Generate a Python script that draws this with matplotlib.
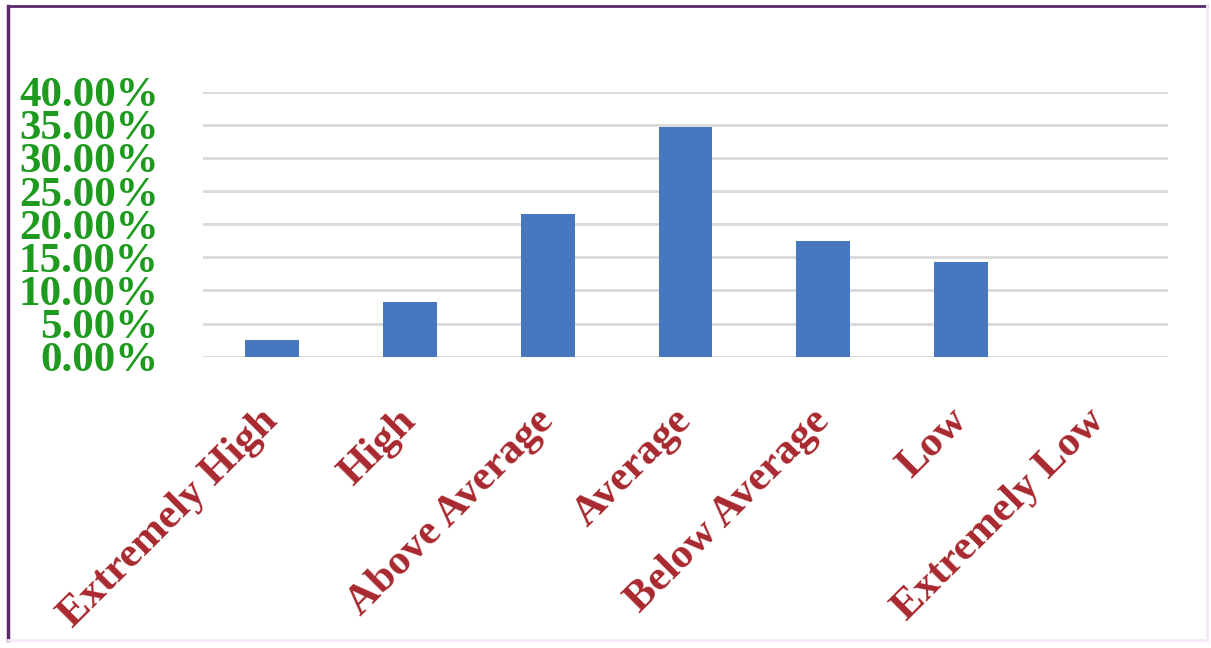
import matplotlib.pyplot as plt
from matplotlib.lines import Line2D
from matplotlib.ticker import FuncFormatter

categories = ['Extremely High', 'High', 'Above Average', 'Average',
              'Below Average', 'Low', 'Extremely Low']
shares = [0.025, 0.083, 0.216, 0.347, 0.175, 0.143, 0.0]
yticks = [0.0, 0.05, 0.10, 0.15, 0.20, 0.25, 0.30, 0.35, 0.40]

fig = plt.figure(figsize=(12.11, 6.48), dpi=100)
ax = fig.add_axes([203/1211, 1-356.7/648, (1168-203)/1211, (356.7-91.7)/648])

x = list(range(len(categories)))
ax.bar(x, shares, width=0.39, color='#4677bf', zorder=3)

ax.set_xlim(-0.5, len(categories) - 0.5)
ax.set_ylim(0, 0.40)
ax.set_yticks(yticks)
ax.yaxis.set_major_formatter(FuncFormatter(lambda v, p: '%.2f%%' % (v * 100)))
ax.grid(axis='y', color='#d9d9d9', linewidth=2, zorder=0)

for s in ax.spines.values():
    s.set_visible(False)

ax.tick_params(axis='y', length=0, pad=32, labelsize=31, labelcolor='#1e9a1e')
ax.tick_params(axis='x', length=0, pad=42)
for lab in ax.get_yticklabels():
    lab.set_fontfamily('Liberation Serif')
    lab.set_fontweight('bold')

ax.set_xticks(x)
ax.set_xticklabels(categories, rotation=45, ha='right', va='center',
                   rotation_mode='anchor', fontsize=31, color='#a8282e',
                   fontfamily='Liberation Serif', fontweight='bold')

# frame round the picture
fig.add_artist(Line2D([8/1211, 8/1211], [1-640/648, 1-6/648], color='#5a2a6a', linewidth=2.5))
fig.add_artist(Line2D([8/1211, 1207/1211], [1-6/648, 1-6/648], color='#5a2a6a', linewidth=2))
fig.add_artist(Line2D([1207/1211, 1207/1211], [1-640/648, 1-6/648], color='#f7e6f7', linewidth=2))
fig.add_artist(Line2D([8/1211, 1207/1211], [1-640/648, 1-640/648], color='#f7e6f7', linewidth=2))

plt.savefig('out.png', dpi=100)
